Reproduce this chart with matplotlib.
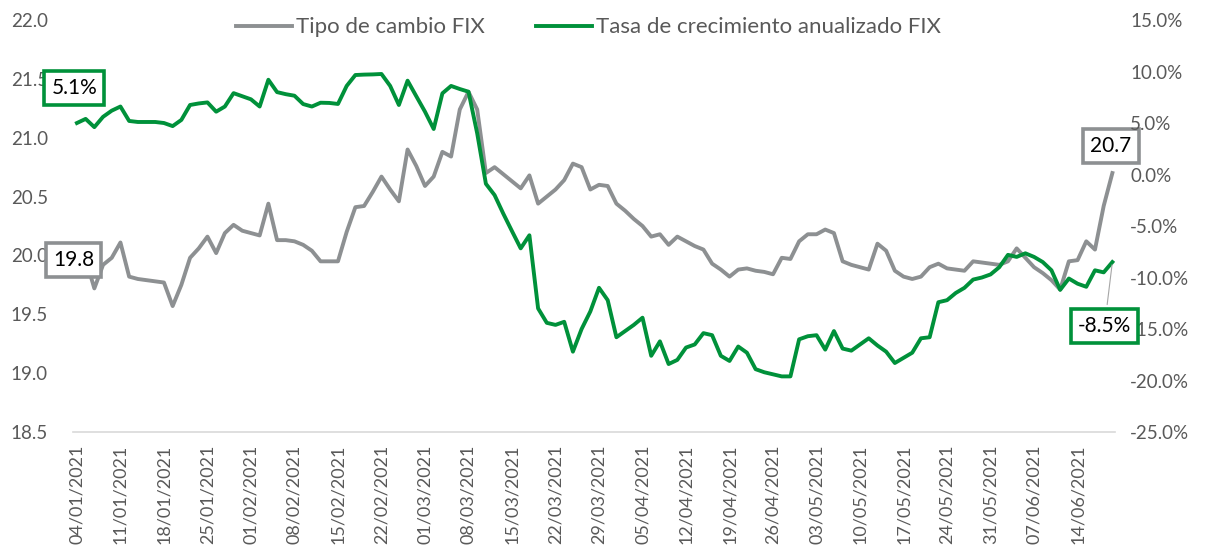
import numpy as np
import pandas as pd
import matplotlib
matplotlib.use("Agg")
import matplotlib.pyplot as plt

plt.rcParams["font.family"] = ["Lato", "DejaVu Sans"]

# Tipo de cambio FIX (pesos por dólar), días hábiles 04/01/2021 - 18/06/2021
fix = [19.90, 19.97, 19.72, 19.92, 19.98, 20.11, 19.82, 19.80, 19.79, 19.78,
       19.77, 19.57, 19.75, 19.98, 20.06, 20.16, 20.02, 20.19, 20.26, 20.21,
       20.19, 20.17, 20.44, 20.13, 20.13, 20.12, 20.09, 20.04, 19.95, 19.95,
       19.95, 20.20, 20.41, 20.42, 20.54, 20.67, 20.56, 20.46, 20.90, 20.76,
       20.59, 20.67, 20.88, 20.84, 21.24, 21.39, 21.24, 20.70, 20.75, 20.69,
       20.63, 20.57, 20.68, 20.44, 20.50, 20.56, 20.64, 20.78, 20.75, 20.56,
       20.60, 20.59, 20.44, 20.38, 20.31, 20.25, 20.16, 20.18, 20.09, 20.16,
       20.12, 20.08, 20.05, 19.93, 19.88, 19.82, 19.88, 19.89, 19.87, 19.86,
       19.84, 19.98, 19.97, 20.12, 20.18, 20.18, 20.22, 20.19, 19.95, 19.92,
       19.90, 19.88, 20.10, 20.04, 19.87, 19.82, 19.80, 19.82, 19.90, 19.93,
       19.89, 19.88, 19.87, 19.95, 19.94, 19.93, 19.92, 19.95, 20.06, 19.98,
       19.90, 19.85, 19.79, 19.71, 19.95, 19.96, 20.12, 20.05, 20.42, 20.70]

# Tasa de crecimiento anualizado FIX (%)
tasa = [5.0, 5.4, 4.6, 5.6, 6.2, 6.6, 5.2, 5.1, 5.1, 5.1,
        5.0, 4.7, 5.3, 6.75, 6.9, 7.0, 6.1, 6.6, 7.9, 7.6,
        7.3, 6.6, 9.2, 8.0, 7.8, 7.65, 6.84, 6.6, 6.97, 6.95,
        6.85, 8.6, 9.66, 9.7, 9.72, 9.76, 8.6, 6.75, 9.11, 7.6,
        6.1, 4.42, 7.88, 8.6, 8.3, 8.04, 4.0, -0.9, -2.0, -3.8,
        -5.5, -7.17, -5.9, -13.0, -14.4, -14.6, -14.3, -17.2, -15.0, -13.3,
        -11.0, -12.2, -15.8, -15.2, -14.6, -13.9, -17.6, -16.2, -18.4, -18.0,
        -16.8, -16.5, -15.4, -15.6, -17.6, -18.1, -16.7, -17.3, -18.9, -19.2,
        -19.4, -19.6, -19.6, -16.0, -15.7, -15.6, -17.0, -15.2, -16.9, -17.1,
        -16.5, -15.9, -16.6, -17.2, -18.3, -17.8, -17.3, -15.9, -15.8, -12.4,
        -12.2, -11.5, -11.0, -10.2, -10.0, -9.7, -9.0, -7.8, -8.0, -7.65,
        -8.0, -8.5, -9.3, -11.2, -10.1, -10.6, -10.9, -9.3, -9.5, -8.5]

tick_labels = ["04/01/2021", "11/01/2021", "18/01/2021", "25/01/2021",
               "01/02/2021", "08/02/2021", "15/02/2021", "22/02/2021",
               "01/03/2021", "08/03/2021", "15/03/2021", "22/03/2021",
               "29/03/2021", "05/04/2021", "12/04/2021", "19/04/2021",
               "26/04/2021", "03/05/2021", "10/05/2021", "17/05/2021",
               "24/05/2021", "31/05/2021", "07/06/2021", "14/06/2021"]

gray = "#8d9092"
green = "#00913a"
txt = "#595959"

x = np.arange(len(fix))

fig = plt.figure(figsize=(12.05, 5.56), dpi=100)
ax = fig.add_axes([0.0606, 0.223, 0.8647, 0.741])
ax2 = ax.twinx()

l1, = ax.plot(x, fix, color=gray, lw=2.8, label="Tipo de cambio FIX")
l2, = ax2.plot(x, tasa, color=green, lw=2.8, label="Tasa de crecimiento anualizado FIX")

ax.set_ylim(18.5, 22.0)
ax.set_yticks(np.arange(18.5, 22.01, 0.5))
ax.set_yticklabels([f"{v:.1f}" for v in np.arange(18.5, 22.01, 0.5)])
ax2.set_ylim(-25, 15)
ax2.set_yticks(np.arange(-25, 15.1, 5))
ax2.set_yticklabels([f"{v:.1f}%" for v in np.arange(-25, 15.1, 5)])

ax.set_xlim(-0.45, 119.3)
ax.set_xticks(np.arange(0, len(fix), 5))
ax.set_xticklabels(tick_labels, rotation=90)

for a in (ax, ax2):
    for s in ["top", "left", "right", "bottom"]:
        a.spines[s].set_visible(False)
    a.tick_params(length=0, labelsize=13.5, colors=txt)
ax.spines["bottom"].set_visible(True)
ax.spines["bottom"].set_color("#d9d9d9")
ax.spines["bottom"].set_linewidth(1.2)
ax.tick_params(axis="y", pad=18)
ax.tick_params(axis="x", pad=9, labelsize=13)
ax2.tick_params(axis="y", pad=11)

leg = ax.legend(handles=[l1, l2], loc="upper center", bbox_to_anchor=(0.495, 1.055),
                ncol=2, frameon=False, fontsize=16, handlelength=2.5,
                columnspacing=2.3, handletextpad=0.2)
for t in leg.get_texts():
    t.set_color(txt)

# Etiquetas de inicio y fin
ax.text(-0.4, 19.96, "19.8", ha="center", va="center", fontsize=15, color="black",
        bbox=dict(boxstyle="square,pad=0.35", fc="white", ec=gray, lw=2.6))
ax2.text(-0.3, 8.4, "5.1%", ha="center", va="center", fontsize=15, color="black",
         bbox=dict(boxstyle="square,pad=0.35", fc="white", ec=green, lw=2.6))
ax.text(118.8, 20.93, "20.7", ha="center", va="center", fontsize=15, color="black",
        bbox=dict(boxstyle="square,pad=0.35", fc="white", ec=gray, lw=2.6))
ax2.annotate("-8.5%", xy=(119, tasa[-1]), xytext=(118.1, -14.7),
             ha="center", va="center", fontsize=15, color="black",
             bbox=dict(boxstyle="square,pad=0.35", fc="white", ec=green, lw=2.6),
             arrowprops=dict(arrowstyle="-", color="#a6a6a6", lw=0.8))

fig.savefig("out.png", dpi=100)
